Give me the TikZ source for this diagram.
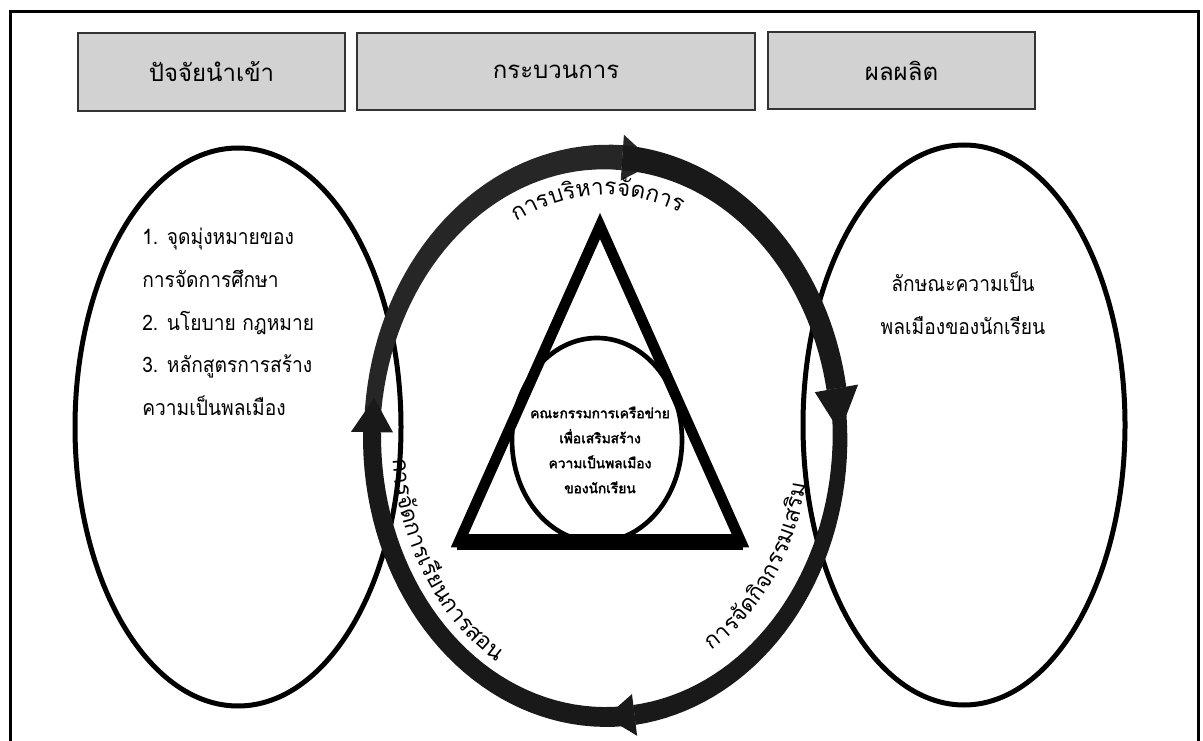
\documentclass[tikz,border=0pt]{standalone}
\usepackage{fontspec}
\newfontfamily\thai[Script=Thai]{Loma}
\newfontfamily\thainarrow[Script=Thai,FakeStretch=0.9]{Loma}
\newfontfamily\thaibold[Script=Thai,FakeBold=2.5]{Loma}
\usetikzlibrary{positioning}

% ring of the process: centre and radii
\def\ringx{606}
\def\ringy{437}
\def\ringa{234}
\def\ringb{280}

\newdimen\clusterwd
\newbox\clusterbox
\newcommand\ringfont{\thai\fontsize{17}{20}\selectfont}

% widths of the clusters of a ring label, in px, as a list cluster/width
\newcommand\measurelabel[2]{%
  \gdef\pairs{}\gdef\pairsep{}%
  \foreach \cl in {#2}{%
    \setbox\clusterbox=\hbox{\ringfont\cl}\clusterwd=\wd\clusterbox
    \pgfmathsetmacro\wpx{\clusterwd/0.75}%
    \xdef\pairs{\pairs\pairsep\cl/\wpx}\gdef\pairsep{,}}%
  \global\expandafter\let\csname #1\endcsname\pairs}

% one tapered arc of the ring with its head
\newcommand\ringarrow[7]{%
  \fill[#7] plot[domain=#1:#2,samples=40]
    ({\ringx+(\ringa+#4+(#5-#4)*(\x-(#1))/((#2)-(#1)))*cos(\x)},
     {\ringy-(\ringb+#4+(#5-#4)*(\x-(#1))/((#2)-(#1)))*sin(\x)})
    -- plot[domain=#2:#1,samples=40]
    ({\ringx+(\ringa-#4-(#5-#4)*(\x-(#1))/((#2)-(#1)))*cos(\x)},
     {\ringy-(\ringb-#4-(#5-#4)*(\x-(#1))/((#2)-(#1)))*sin(\x)}) -- cycle;
  \fill[#7] ({\ringx+(\ringa+#6)*cos(#2)},{\ringy-(\ringb+#6)*sin(#2)})
    -- ({\ringx+\ringa*cos(#3)},{\ringy-\ringb*sin(#3)})
    -- ({\ringx+(\ringa-#6)*cos(#2)},{\ringy-(\ringb-#6)*sin(#2)}) -- cycle;
}

% label set cluster by cluster along an ellipse round the ring centre
\newcommand\curvedtext[5]{%
  \gdef\totalwd{0}%
  \foreach \cl/\w in #5 {%
    \pgfmathsetmacro\tmpwd{\totalwd+\w}%
    \global\let\totalwd\tmpwd}%
  \pgfmathsetmacro\spd{100*sqrt((#1/100*sin(#3))^2+(#2/100*cos(#3))^2)}%
  \pgfmathsetmacro\tstart{#3-(#4)*\totalwd/\spd*57.2958/2}%
  \global\let\tcur\tstart
  \foreach \cl/\w in #5 {%
    \pgfmathsetmacro\spd{100*sqrt((#1/100*sin(\tcur))^2+(#2/100*cos(\tcur))^2)}%
    \pgfmathsetmacro\tmid{\tcur+(#4)*\w/\spd*57.2958/2}%
    \pgfmathsetmacro\ang{atan2((#4)*#2*cos(\tmid),-(#4)*#1*sin(\tmid))}%
    \node[anchor=base,inner sep=0,rotate=\ang,font=\ringfont]
      at ({\ringx+#1*cos(\tmid)},{\ringy-#2*sin(\tmid)}) {\cl};
    \pgfmathsetmacro\tnew{\tcur+(#4)*\w/\spd*57.2958}%
    \global\let\tcur\tnew}%
}

\begin{document}
\measurelabel{management}{ก,า,ร,บ,ริ,ห,า,ร,จั,ด,ก,า,ร}%
\measurelabel{teaching}{ก,า,ร,จั,ด,ก,า,ร,เ,รี,ย,น,ก,า,ร,ส,อ,น}%
\measurelabel{activities}{ก,า,ร,จั,ด,กิ,จ,ก,ร,ร,ม,เ,ส,ริ,ม}%
\begin{tikzpicture}[x=0.75pt,y=-0.75pt,
    every node/.style={font=\thai},
    % grey heading boxes
    headbox/.style={draw=black!80, line width=1.5pt, fill=gray!35,
      minimum width=#1, minimum height=58pt, inner sep=0pt,
      font=\thai\fontsize{18}{22}\selectfont},
    bodytext/.style={align=left, inner sep=0pt,
      font=\thainarrow\fontsize{16}{32}\selectfont},
    oval/.style={line width=3.75pt}
  ]
  \useasboundingbox (0,0) rectangle (1203,741);

  % frame
  \draw[line width=2.25pt] (10,760) -- (10,12) -- (1198,12) -- (1198,760);

  % === HEADINGS ===
  \node[headbox=200pt] (input) at (211.5,72) {ปัจจัยนำเข้า};
  \node[headbox=298.5pt] (process) at (556,71.5) {กระบวนการ};
  \node[headbox=200pt] (output) at (901.5,70.5) {ผลผลิต};

  % === INPUT AND OUTPUT OVALS ===
  \draw[oval] (238,427) ellipse [x radius=163, y radius=279];
  \draw[oval] (964,425) ellipse [x radius=161, y radius=280];

  \node[bodytext, anchor=north west] (inputtext) at (142,228)
    {1. จุดมุ่งหมายของ\\การจัดการศึกษา\\2. นโยบาย กฎหมาย\\3. หลักสูตรการสร้าง\\ความเป็นพลเมือง};
  \node[bodytext, align=center] (outputtext) at (963,303)
    {ลักษณะความเป็น\\พลเมืองของนักเรียน};

  % === TRIANGLE AND CENTRE ===
  \draw[line width=8pt, line join=miter] (600,226) -- (459,542) -- (741,542) -- cycle;
  \draw[line width=12.5pt] (457,542) -- (743,542);
  \draw[line width=3.5pt] (597,440) ellipse [x radius=85, y radius=102];
  \node[align=center, inner sep=0pt,
    font=\thaibold\fontsize{10.3}{18.75}\selectfont] (network) at (600,450)
    {คณะกรรมการเครือข่าย\\เพื่อเสริมสร้าง\\ความเป็นพลเมือง\\ของนักเรียน};

  % === RING OF ARROWS ===
  \ringarrow{179}{86}{78}{8}{12.5}{23}{black!85}
  \ringarrow{86}{10}{1}{12.5}{10}{22}{black!90}
  \ringarrow{10}{-83}{-90}{7}{10}{21}{black!90}
  \ringarrow{-83}{-181}{-188}{10}{9}{21}{black!90}

  % labels on the ring
  \curvedtext{196}{242}{92}{-1}{\management}
  \curvedtext{214}{261}{212}{1}{\teaching}
  \curvedtext{204}{250}{325}{1}{\activities}
\end{tikzpicture}
\end{document}
